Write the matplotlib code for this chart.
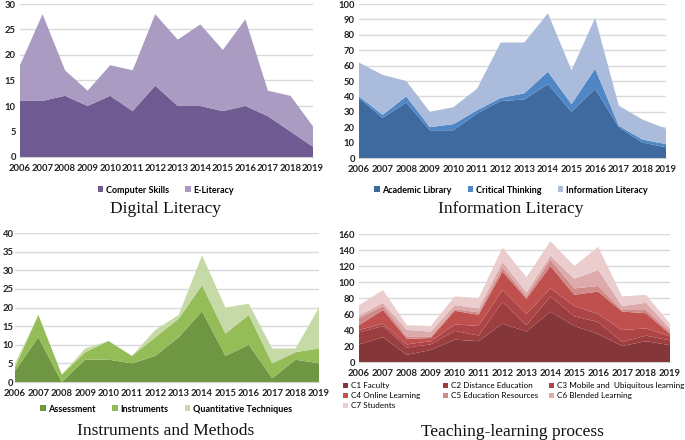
import matplotlib
matplotlib.use("Agg")
import matplotlib.pyplot as plt
import numpy as np

years = list(range(2006, 2020))

# Digital Literacy
computer_skills = [11, 11, 12, 10, 12, 9, 14, 10, 10, 9, 10, 8, 5, 2]
e_literacy = [7, 17, 5, 3, 6, 8, 14, 13, 16, 12, 17, 5, 7, 4]

# Information Literacy
academic_library = [39, 26, 36, 18, 18, 29, 37, 38, 48, 30, 45, 20, 10, 7]
critical_thinking = [1, 2, 4, 2, 4, 2, 2, 4, 8, 5, 13, 1, 2, 2]
information_literacy = [22, 26, 10, 10, 11, 14, 36, 33, 38, 22, 33, 13, 13, 10]

# Instruments and Methods
assessment = [3, 12, 0, 6, 6, 5, 7, 12, 19, 7, 10, 1, 6, 5]
instruments = [1, 6, 2, 2, 5, 2, 5, 5, 7, 6, 8, 4, 2, 4]
quantitative = [1, 0, 0, 1, 0, 0, 2, 1, 8, 7, 3, 4, 1, 11]

# Teaching-learning process
c1_faculty = [22, 31, 9, 15, 28, 26, 48, 38, 63, 45, 35, 20, 26, 21]
c2_distance = [15, 14, 9, 7, 11, 7, 27, 8, 19, 12, 15, 5, 7, 6]
c3_mobile = [3, 3, 4, 4, 8, 12, 15, 14, 10, 13, 10, 15, 9, 5]
c4_online = [6, 17, 7, 4, 17, 14, 23, 19, 28, 14, 28, 23, 19, 3]
c5_resources = [9, 5, 3, 2, 2, 3, 5, 3, 8, 8, 7, 2, 4, 3]
c6_blended = [3, 4, 8, 6, 5, 5, 7, 5, 5, 12, 20, 5, 9, 4]
c7_students = [13, 16, 6, 7, 11, 13, 18, 19, 18, 16, 29, 12, 10, 6]

W, H = 685, 440
fig = plt.figure(figsize=(W / 100, H / 100), dpi=100)

TICKFONT = dict(family="Lato", size=6.8, weight="bold")
LEGFONT = dict(family="Lato", size=6.5, weight="bold")


def make_ax(left, right, top, bottom):
    return fig.add_axes([left / W, 1 - bottom / H, (right - left) / W, (bottom - top) / H])


def style(ax, ymax, step, ypad=3):
    ax.set_xlim(2006, 2019)
    ax.set_ylim(0, ymax)
    ax.set_yticks(np.arange(0, ymax + 1, step))
    ax.set_xticks(years)
    ax.set_xticklabels([str(y) for y in years], fontdict=TICKFONT, color="#222222")
    ax.set_yticklabels([str(int(v)) for v in np.arange(0, ymax + 1, step)], fontdict=TICKFONT, color="#222222")
    ax.grid(axis="y", color="#d9d9d9", linewidth=1.0)
    ax.set_axisbelow(True)
    for s in ["top", "right", "left"]:
        ax.spines[s].set_visible(False)
    ax.spines["bottom"].set_color("#d0d0d0")
    ax.tick_params(axis="both", length=0)
    ax.tick_params(axis="y", pad=ypad)
    ax.tick_params(axis="x", pad=5)


def title(x, y, text):
    fig.text(x / W, 1 - y / H, text, ha="center", va="center",
             family="Liberation Serif", fontsize=12.5, color="#111111")


def legend(ax, x, y, ncol, **kw):
    h, l = ax.get_legend_handles_labels()
    leg = fig.legend(h, l, loc="center", bbox_to_anchor=(x / W, 1 - y / H), ncol=ncol,
                     frameon=False, handlelength=0.6, handleheight=0.6, handletextpad=0.3,
                     columnspacing=1.8, prop=LEGFONT, **kw)
    return leg


# Panel 1
ax1 = make_ax(20, 313, 4, 157)
ax1.stackplot(years, computer_skills, e_literacy,
              labels=["Computer Skills", "E-Literacy"],
              colors=["#6f5a91", "#a99bc1"], linewidth=0)
style(ax1, 30, 5)
legend(ax1, 166, 190, 2)
title(166, 209, "Digital Literacy")

# Panel 2
ax2 = make_ax(359, 666, 4, 158)
ax2.stackplot(years, academic_library, critical_thinking, information_literacy,
              labels=["Academic Library", "Critical Thinking", "Information Literacy"],
              colors=["#3f6aa0", "#4f86c6", "#aabbdc"], linewidth=0)
style(ax2, 100, 10)
legend(ax2, 511, 190, 3)
title(511, 209, "Information Literacy")

# Panel 3
ax3 = make_ax(15, 319, 233, 382)
ax3.stackplot(years, assessment, instruments, quantitative,
              labels=["Assessment", "Instruments", "Quantitative Techniques"],
              colors=["#6f9642", "#94bc57", "#c6daa8"], linewidth=0)
style(ax3, 40, 5, ypad=1)
legend(ax3, 166, 409, 3)
title(166, 431, "Instruments and Methods")

# Panel 4
ax4 = make_ax(359, 670, 234, 362)
labels4 = ["C1 Faculty", "C2 Distance Education", "C3 Mobile and  Ubiquitous learning",
           "C4 Online Learning", "C5 Education Resources", "C6 Blended Learning", "C7 Students"]
colors4 = ["#843638", "#9c3d3f", "#ad4446", "#c0504d", "#d08a89", "#dcaaab", "#ebcdce"]
ax4.stackplot(years, c1_faculty, c2_distance, c3_mobile, c4_online, c5_resources,
              c6_blended, c7_students, labels=labels4, colors=colors4, linewidth=0)
style(ax4, 160, 20)
h, l = ax4.get_legend_handles_labels()
col_x = [341, 441, 547]
cols = [[0, 3, 6], [1, 4], [2, 5]]
for cx, idx in zip(col_x, cols):
    leg = fig.legend([h[i] for i in idx], [l[i] for i in idx], loc="upper left",
                     bbox_to_anchor=(cx / W, 1 - 380 / H), ncol=1, frameon=False,
                     handlelength=0.6, handleheight=0.6, handletextpad=0.3,
                     labelspacing=0.35, borderaxespad=0, borderpad=0.3,
                     prop=dict(family="Lato", size=5.9))
title(512, 432, "Teaching-learning process")

fig.savefig("out.png", dpi=100)
